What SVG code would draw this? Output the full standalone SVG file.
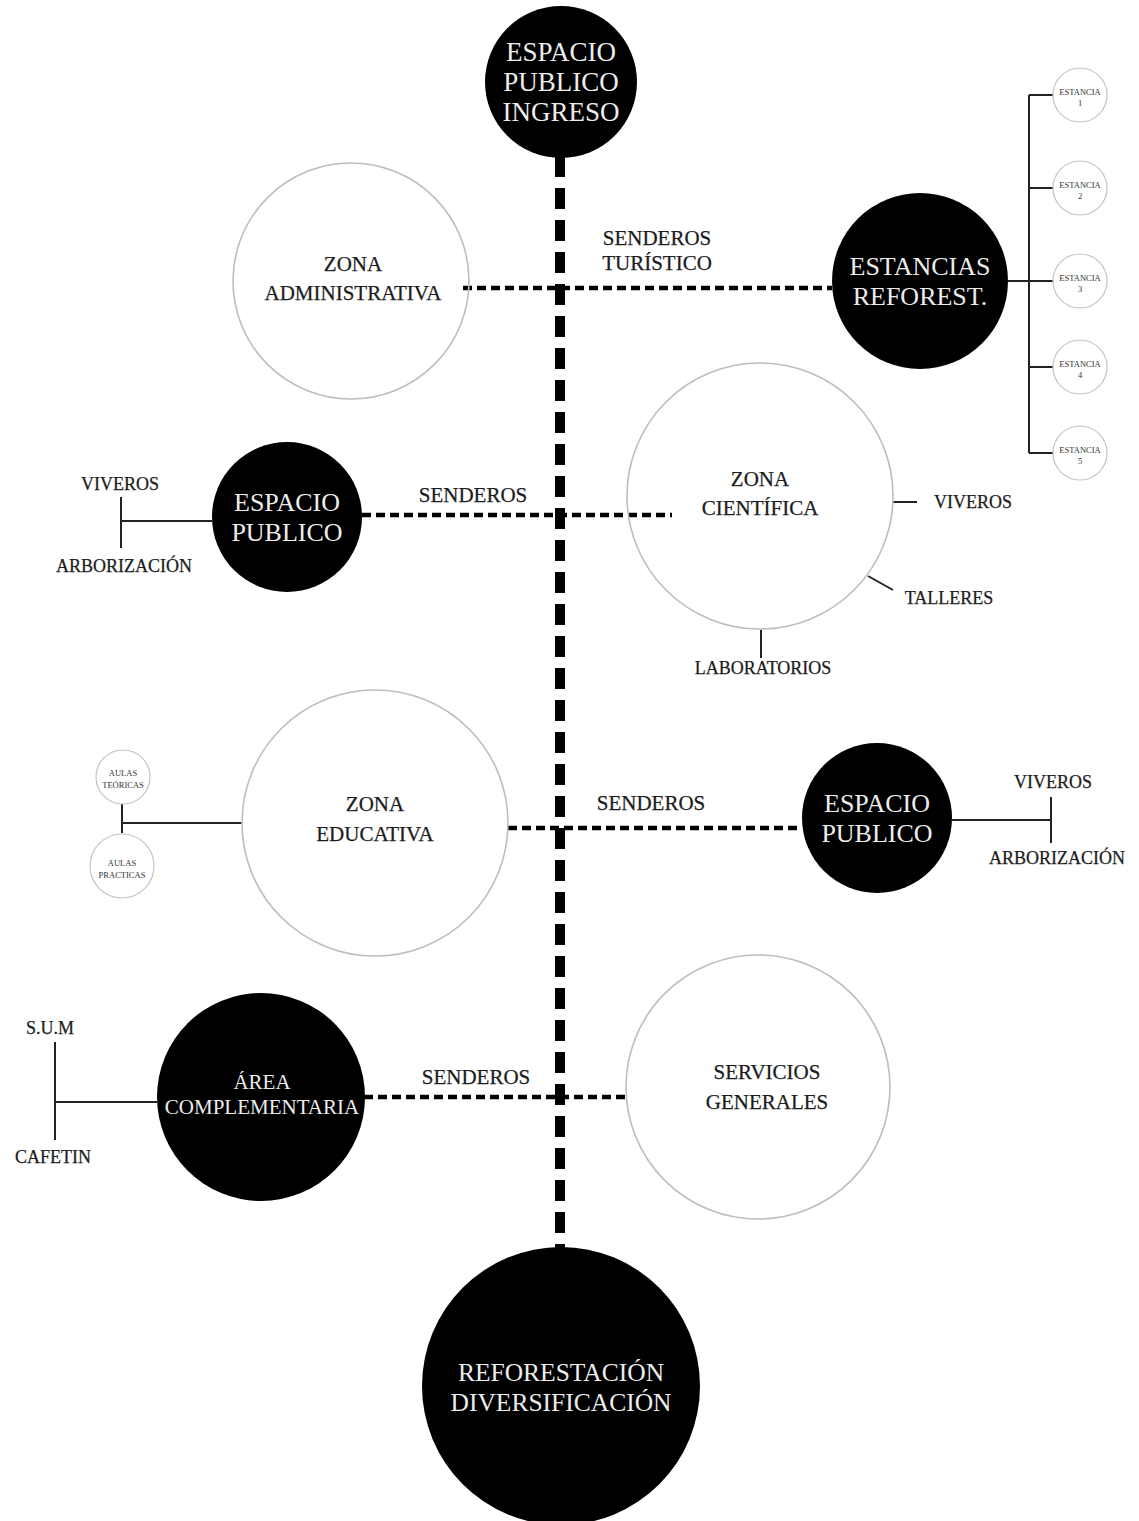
<svg xmlns="http://www.w3.org/2000/svg" width="1139" height="1521" viewBox="0 0 1139 1521">
  <style>
    text { font-family: "Liberation Serif", "Times New Roman", serif; text-anchor: middle; }
    .dark { fill: #000; }
    .light { fill: none; stroke: #bdbdbd; stroke-width: 1.6; }
    .tiny { fill: #fff; stroke: #c4c4c4; stroke-width: 1.2; }
    .inv { fill: #ececec; }
    .lbl { fill: #1c1c1c; font-size: 18px; stroke: #1c1c1c; stroke-width: 0.25; }
    .path { fill: #1c1c1c; font-size: 21px; stroke: #1c1c1c; stroke-width: 0.25; }
    .mini { fill: #333; font-size: 8.5px; }
    .spine { stroke: #000; stroke-width: 10; stroke-dasharray: 21 11; fill: none; }
    .trail { stroke: #000; stroke-width: 4.5; stroke-dasharray: 9 5; fill: none; }
    .tie { stroke: #222; stroke-width: 2; fill: none; }
  </style>
  <rect width="1139" height="1521" fill="#fff"/>

  <!-- connectors -->
  <g id="connectors">
    <line class="spine" x1="560" y1="156" x2="560" y2="1250"/>
    <line class="trail" x1="463" y1="288" x2="832" y2="288"/>
    <line class="trail" x1="362" y1="515" x2="672" y2="515"/>
    <line class="trail" x1="508" y1="828" x2="802" y2="828"/>
    <line class="trail" x1="364" y1="1097" x2="625" y2="1097"/>
    <!-- estancias bracket -->
    <path class="tie" d="M1008 281 H1029 M1029 95 V453 M1029 95 H1053 M1029 188 H1053 M1029 281 H1053 M1029 367 H1053 M1029 453 H1053"/>
    <!-- espacio publico (left) bracket -->
    <path class="tie" d="M212 521 H121 M121 497 V548"/>
    <!-- zona cientifica ticks -->
    <path class="tie" d="M893 502 H917 M868 576 L893 590 M761 630 V658"/>
    <!-- zona educativa bracket -->
    <path class="tie" d="M242 823 H122 M122 803 V833"/>
    <!-- espacio publico (right) bracket -->
    <path class="tie" d="M952 820 H1051 M1051 797 V843"/>
    <!-- area complementaria bracket -->
    <path class="tie" d="M157 1102 H55 M55 1042 V1140"/>
  </g>

  <g id="ingreso">
    <circle class="dark" cx="561" cy="82" r="76"/>
    <text class="inv" x="561" y="61" font-size="27">ESPACIO</text>
    <text class="inv" x="561" y="91" font-size="27">PUBLICO</text>
    <text class="inv" x="561" y="121" font-size="27">INGRESO</text>
  </g>

  <g id="zona-administrativa">
    <circle class="light" cx="351" cy="281" r="118"/>
    <text class="path" x="353" y="271" font-size="22">ZONA</text>
    <text class="path" x="353" y="300" font-size="22">ADMINISTRATIVA</text>
  </g>

  <g id="senderos-turistico">
    <text class="path" x="657" y="245">SENDEROS</text>
    <text class="path" x="657" y="270">TURÍSTICO</text>
  </g>

  <g id="estancias-reforest">
    <circle class="dark" cx="920" cy="281" r="88"/>
    <text class="inv" x="920" y="275" font-size="26">ESTANCIAS</text>
    <text class="inv" x="920" y="305" font-size="26">REFOREST.</text>
  </g>

  <g id="estancia-1">
    <circle class="tiny" cx="1080" cy="95" r="27"/>
    <text class="mini" x="1080" y="95">ESTANCIA</text>
    <text class="mini" x="1080" y="106">1</text>
  </g>
  <g id="estancia-2">
    <circle class="tiny" cx="1080" cy="188" r="27"/>
    <text class="mini" x="1080" y="188">ESTANCIA</text>
    <text class="mini" x="1080" y="199">2</text>
  </g>
  <g id="estancia-3">
    <circle class="tiny" cx="1080" cy="281" r="27"/>
    <text class="mini" x="1080" y="281">ESTANCIA</text>
    <text class="mini" x="1080" y="292">3</text>
  </g>
  <g id="estancia-4">
    <circle class="tiny" cx="1080" cy="367" r="27"/>
    <text class="mini" x="1080" y="367">ESTANCIA</text>
    <text class="mini" x="1080" y="378">4</text>
  </g>
  <g id="estancia-5">
    <circle class="tiny" cx="1080" cy="453" r="27"/>
    <text class="mini" x="1080" y="453">ESTANCIA</text>
    <text class="mini" x="1080" y="464">5</text>
  </g>

  <g id="zona-cientifica">
    <circle class="light" cx="760" cy="496" r="133"/>
    <text class="path" x="760" y="486" font-size="25">ZONA</text>
    <text class="path" x="760" y="515" font-size="25">CIENTÍFICA</text>
    <text class="lbl" x="973" y="508">VIVEROS</text>
    <text class="lbl" x="949" y="604">TALLERES</text>
    <text class="lbl" x="763" y="674">LABORATORIOS</text>
  </g>

  <g id="senderos-2">
    <text class="path" x="473" y="502">SENDEROS</text>
  </g>

  <g id="espacio-publico-izq">
    <circle class="dark" cx="287" cy="517" r="75"/>
    <text class="inv" x="287" y="511" font-size="26">ESPACIO</text>
    <text class="inv" x="287" y="541" font-size="26">PUBLICO</text>
    <text class="lbl" x="120" y="490">VIVEROS</text>
    <text class="lbl" x="124" y="572">ARBORIZACIÓN</text>
  </g>

  <g id="zona-educativa">
    <circle class="light" cx="375" cy="823" r="133"/>
    <text class="path" x="375" y="811" font-size="25">ZONA</text>
    <text class="path" x="375" y="841" font-size="25">EDUCATIVA</text>
  </g>

  <g id="aulas-teoricas">
    <circle class="tiny" cx="123" cy="777" r="27"/>
    <text class="mini" x="123" y="776" font-size="9">AULAS</text>
    <text class="mini" x="123" y="788" font-size="9">TEÓRICAS</text>
  </g>
  <g id="aulas-practicas">
    <circle class="tiny" cx="122" cy="866" r="32"/>
    <text class="mini" x="122" y="866" font-size="9.5">AULAS</text>
    <text class="mini" x="122" y="878" font-size="9.5">PRACTICAS</text>
  </g>

  <g id="senderos-3">
    <text class="path" x="651" y="810">SENDEROS</text>
  </g>

  <g id="espacio-publico-der">
    <circle class="dark" cx="877" cy="818" r="75"/>
    <text class="inv" x="877" y="812" font-size="26">ESPACIO</text>
    <text class="inv" x="877" y="842" font-size="26">PUBLICO</text>
    <text class="lbl" x="1053" y="788">VIVEROS</text>
    <text class="lbl" x="1057" y="864">ARBORIZACIÓN</text>
  </g>

  <g id="servicios-generales">
    <circle class="light" cx="758" cy="1087" r="132"/>
    <text class="path" x="767" y="1079" font-size="25">SERVICIOS</text>
    <text class="path" x="767" y="1109" font-size="25">GENERALES</text>
  </g>

  <g id="senderos-4">
    <text class="path" x="476" y="1084">SENDEROS</text>
  </g>

  <g id="area-complementaria">
    <circle class="dark" cx="261" cy="1097" r="104"/>
    <text class="inv" x="262" y="1089" font-size="21">ÁREA</text>
    <text class="inv" x="262" y="1114" font-size="21">COMPLEMENTARIA</text>
    <text class="lbl" x="50" y="1034" font-size="17">S.U.M</text>
    <text class="lbl" x="53" y="1163" font-size="17">CAFETIN</text>
  </g>

  <g id="reforestacion">
    <circle class="dark" cx="561" cy="1386" r="139"/>
    <text class="inv" x="561" y="1381" font-size="25.5">REFORESTACIÓN</text>
    <text class="inv" x="561" y="1411" font-size="25.5">DIVERSIFICACIÓN</text>
  </g>
</svg>
